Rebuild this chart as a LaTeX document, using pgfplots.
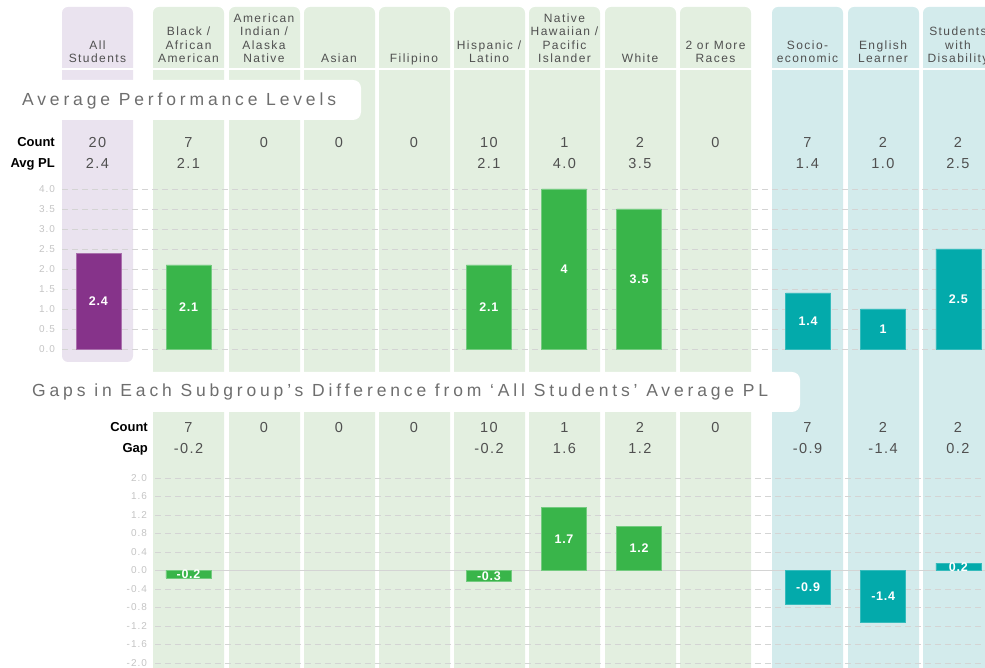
\documentclass[border=0pt]{standalone}
\usepackage{pgfplots}
\usepackage{pgfplotstable}
\pgfplotsset{compat=1.18}
\usepackage{fontspec}
\setmainfont{Liberation Sans}
\newfontfamily\hdrf{Liberation Sans}[LetterSpace=12]
\newfontfamily\ttlf{Liberation Sans}[LetterSpace=22]
\newfontfamily\numf{Liberation Sans}[LetterSpace=10]
\newfontfamily\barf{Liberation Sans}[LetterSpace=6]

\definecolor{lav}{HTML}{EAE3EF}
\definecolor{lgreen}{HTML}{E3EFE0}
\definecolor{lteal}{HTML}{D3EBEC}
\definecolor{cpurple}{HTML}{86338A}
\definecolor{cgreen}{HTML}{39B54A}
\definecolor{cteal}{HTML}{03AAAB}
\definecolor{txt}{HTML}{505050}
\definecolor{ttl}{HTML}{6E6E6E}
\definecolor{tickc}{HTML}{C4C4C4}
\definecolor{gridc}{HTML}{D4D4D4}

% Top: average performance level
\pgfplotstableread{
x v lab
0 2.4 2.4
}\topall
\pgfplotstableread{
x v lab
1.2 2.1 2.1
5.2 2.1 2.1
6.2 4.0 4
7.2 3.5 3.5
}\toprace
\pgfplotstableread{
x v lab
9.45 1.4 1.4
10.45 1.0 1
11.45 2.5 2.5
}\topprog
% Bottom: gaps
\pgfplotstableread{
x v lab
1.2 -0.2 -0.2
5.2 -0.3 -0.3
6.2 1.7 1.7
7.2 1.2 1.2
}\botrace
\pgfplotstableread{
x v lab
9.45 -0.9 -0.9
10.45 -1.4 -1.4
11.45 0.2 0.2
}\botprog

\begin{document}
\begin{tikzpicture}
\useasboundingbox (0,0) rectangle (985pt,668pt);
\clip (0,0) rectangle (985pt,668pt);
% column backgrounds
\fill[lav, rounded corners=6pt] (62pt,661pt) rectangle (133pt,306pt);
\foreach \l in {153,229,304,379,454,529,605,680}
  \fill[lgreen, rounded corners=6pt] (\l pt,661pt) rectangle ++(71pt,-700pt);
\foreach \l in {772,848,923}
  \fill[lteal, rounded corners=6pt] (\l pt,661pt) rectangle ++(71pt,-700pt);
\fill[white] (55pt,598pt) rectangle (990pt,600pt);
% title boxes
\fill[white, rounded corners=8pt] (-20pt,548pt) rectangle (361pt,588pt);
\fill[white, rounded corners=8pt] (-20pt,256pt) rectangle (800pt,296pt);
\node[anchor=base west, inner sep=0, text=ttl, font=\ttlf\fontsize{17.5}{17.5}\selectfont] at (22pt,562pt) {Average Performance Levels};
\node[anchor=base west, inner sep=0, text=ttl, font=\ttlf\fontsize{17.5}{17.5}\selectfont] at (32pt,271pt) {Gaps in Each Subgroup’s Difference from ‘All Students’ Average PL};
% column headers (anchor base = baseline of the last line)
\foreach \cx/\t in {97.5/{All\\Students},188.5/{Black /\\African\\American},264/{American\\Indian /\\Alaska\\Native},339/{Asian},414/{Filipino},489/{Hispanic /\\Latino},564.5/{Native\\Hawaiian /\\Pacific\\Islander},640/{White},715.5/{2 or More\\Races},807.5/{Socio-\\economic},883/{English\\Learner},958/{Students\\with\\Disability}}
  \node[anchor=base, align=center, inner sep=0, text=txt, font=\hdrf\fontsize{12}{13.3}\selectfont] at (\cx pt,605.5pt) {\t};
% row labels
\node[anchor=base east, inner sep=0, font=\bfseries\fontsize{13}{13}\selectfont] at (55pt,521.3pt) {Count};
\node[anchor=base east, inner sep=0, font=\bfseries\fontsize{13}{13}\selectfont] at (55pt,500.3pt) {Avg PL};
\node[anchor=base east, inner sep=0, font=\bfseries\fontsize{13}{13}\selectfont] at (148pt,236.3pt) {Count};
\node[anchor=base east, inner sep=0, font=\bfseries\fontsize{13}{13}\selectfont] at (148pt,215.3pt) {Gap};
% values
\foreach \cx/\c/\a in {97.5/20/2.4,188.5/7/2.1,264/0/{},339/0/{},414/0/{},489/10/2.1,564.5/1/4.0,640/2/3.5,715.5/0/{},807.5/7/1.4,883/2/1.0,958/2/2.5}{
  \node[anchor=base, inner sep=0, text=txt, font=\numf\fontsize{14.5}{14.5}\selectfont] at (\cx pt,520.8pt) {\c};
  \node[anchor=base, inner sep=0, text=txt, font=\numf\fontsize{14.5}{14.5}\selectfont] at (\cx pt,499.8pt) {\a};
}
\foreach \cx/\c/\a in {188.5/7/-0.2,264/0/{},339/0/{},414/0/{},489/10/-0.2,564.5/1/1.6,640/2/1.2,715.5/0/{},807.5/7/-0.9,883/2/-1.4,958/2/0.2}{
  \node[anchor=base, inner sep=0, text=txt, font=\numf\fontsize{14.5}{14.5}\selectfont] at (\cx pt,235.8pt) {\c};
  \node[anchor=base, inner sep=0, text=txt, font=\numf\fontsize{14.5}{14.5}\selectfont] at (\cx pt,214.8pt) {\a};
}

\pgfplotsset{
  barlab/.style={draw=none, mark=none, nodes near coords, point meta=explicit symbolic,
    every node near coord/.append style={anchor=center, text=white, inner sep=0,
      font=\barf\bfseries\fontsize{12.5}{12.5}\selectfont}},
}

% top axis
\begin{axis}[
  at={(62pt,319pt)}, anchor=south west, scale only axis,
  width=923pt, height=160pt,
  xmin=-0.485, xmax=11.806, ymin=0, ymax=4,
  axis line style={draw=none}, xtick=\empty,
  ytick={0,0.5,1,1.5,2,2.5,3,3.5,4},
  major tick length=0pt,
  ymajorgrids, major grid style={color=gridc, line width=0.8pt, dash pattern=on 6pt off 4pt},
  yticklabel style={font=\numf\fontsize{10}{10}\selectfont, text=tickc, xshift=-3.5pt,
    /pgf/number format/.cd, fixed, fixed zerofill, precision=1, assume math mode=true},
  clip=false,
]
\addplot[ybar, bar width=45pt, bar shift=0pt, fill=cpurple, draw=cpurple!70!white] table[x=x,y=v] {\topall};
\addplot[ybar, bar width=45pt, bar shift=0pt, fill=cgreen, draw=cgreen!70!white] table[x=x,y=v] {\toprace};
\addplot[ybar, bar width=45pt, bar shift=0pt, fill=cteal, draw=cteal!80!white] table[x=x,y=v] {\topprog};
\addplot[barlab] table[x=x, y expr=\thisrow{v}/2, meta=lab] {\topall};
\addplot[barlab] table[x=x, y expr=\thisrow{v}/2, meta=lab] {\toprace};
\addplot[barlab] table[x=x, y expr=\thisrow{v}/2, meta=lab] {\topprog};
\end{axis}

% bottom axis
\begin{axis}[
  at={(155pt,5pt)}, anchor=south west, scale only axis,
  width=830pt, height=185pt,
  xmin=0.754, xmax=11.806, ymin=-2.5, ymax=2.5,
  axis line style={draw=none}, xtick=\empty,
  ytick={-2.5,-2,-1.5,-1,-0.5,0.5,1,1.5,2,2.5},
  yticklabels={-2.0,-1.6,-1.2,-0.8,-0.4,0.4,0.8,1.2,1.6,2.0},
  extra y ticks={0}, extra y tick labels={0.0},
  extra y tick style={ymajorgrids=true, major grid style={color=gridc, solid, line width=0.9pt}},
  major tick length=0pt,
  ymajorgrids, major grid style={color=gridc, line width=0.8pt, dash pattern=on 6pt off 4pt},
  yticklabel style={font=\numf\fontsize{10}{10}\selectfont, text=tickc, xshift=-4.5pt},
  clip=false,
]
\addplot[ybar, bar width=45pt, bar shift=0pt, fill=cgreen, draw=cgreen!70!white] table[x=x,y=v] {\botrace};
\addplot[ybar, bar width=45pt, bar shift=0pt, fill=cteal, draw=cteal!80!white] table[x=x,y=v] {\botprog};
\addplot[barlab] table[x=x, y expr=\thisrow{v}/2, meta=lab] {\botrace};
\addplot[barlab] table[x=x, y expr=\thisrow{v}/2, meta=lab] {\botprog};
\end{axis}
\end{tikzpicture}
\end{document}
